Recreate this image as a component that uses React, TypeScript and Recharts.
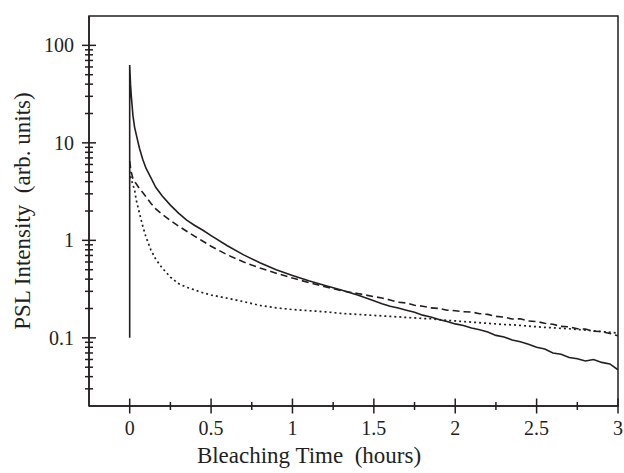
import { LineChart, Line, XAxis, YAxis, ReferenceArea } from 'recharts'

const INK = '#231f20'
const SERIF = '"Liberation Serif", "Times New Roman", serif'

// bleaching time (hours), shared by the three traces
const hours = [
  0, 0.005, 0.01, 0.02, 0.03, 0.04, 0.06, 0.08, 0.1,
  0.13, 0.16, 0.2, 0.25, 0.3, 0.35, 0.4, 0.45, 0.5,
  0.6, 0.7, 0.8, 0.9, 1.0, 1.1, 1.2, 1.3, 1.4, 1.5,
  1.55, 1.6, 1.65, 1.7, 1.75, 1.8, 1.85, 1.9, 1.95, 2.0,
  2.05, 2.1, 2.15, 2.2, 2.25, 2.3, 2.35, 2.4, 2.45, 2.5,
  2.55, 2.6, 2.65, 2.7, 2.75, 2.8, 2.85, 2.9, 2.95, 3.0,
]

// solid trace starts with a vertical jump at t = 0
const solidStart = 0.1
const solidPsl = [
  63, 40, 30, 19, 14.5, 12.2, 8.8, 6.8, 5.5,
  4.4, 3.5, 2.85, 2.3, 1.9, 1.61, 1.42, 1.27, 1.12,
  0.88, 0.71, 0.59, 0.5, 0.435, 0.385, 0.345, 0.31, 0.275, 0.24,
  0.224, 0.211, 0.202, 0.192, 0.183, 0.171, 0.164, 0.154, 0.147, 0.139,
  0.134, 0.126, 0.121, 0.115, 0.106, 0.102, 0.095, 0.091, 0.086, 0.08,
  0.077, 0.07, 0.068, 0.063, 0.061, 0.058, 0.06, 0.056, 0.054, 0.047,
]
const dashedPsl = [
  6.5, 5.6, 5.0, 4.3, 4.0, 3.8, 3.4, 3.1, 2.8,
  2.4, 2.1, 1.85, 1.6, 1.4, 1.24, 1.1, 0.98, 0.87,
  0.71, 0.6, 0.52, 0.46, 0.41, 0.37, 0.335, 0.305, 0.285, 0.265,
  0.256, 0.245, 0.232, 0.228, 0.216, 0.211, 0.203, 0.2, 0.192, 0.19,
  0.185, 0.184, 0.177, 0.174, 0.166, 0.163, 0.156, 0.157, 0.149, 0.147,
  0.141, 0.138, 0.131, 0.13, 0.124, 0.123, 0.117, 0.116, 0.111, 0.105,
]
const dottedPsl = [
  5.1, 4.6, 4.2, 3.7, 3.3, 2.6, 1.9, 1.4, 1.08,
  0.8, 0.64, 0.52, 0.42, 0.36, 0.33, 0.31, 0.29, 0.275,
  0.255, 0.235, 0.215, 0.203, 0.195, 0.19, 0.185, 0.178, 0.174, 0.17,
  0.168, 0.166, 0.164, 0.162, 0.16, 0.158, 0.157, 0.154, 0.151, 0.149,
  0.147, 0.145, 0.143, 0.141, 0.139, 0.137, 0.136, 0.134, 0.132, 0.13,
  0.128, 0.127, 0.125, 0.124, 0.122, 0.12, 0.118, 0.116, 0.114, 0.112,
]

const xMajor = [0, 0.5, 1, 1.5, 2, 2.5, 3]
const xMinor = [0.25, 0.75, 1.25, 1.75, 2.25, 2.75]
const yMajor = [0.1, 1, 10, 100]
const yMinor = [
  0.03, 0.04, 0.05, 0.06, 0.07, 0.08, 0.09,
  0.2, 0.3, 0.4, 0.5, 0.6, 0.7, 0.8, 0.9,
  2, 3, 4, 5, 6, 7, 8, 9,
  20, 30, 40, 50, 60, 70, 80, 90,
]

const solidData = [
  { t: 0, v: solidStart },
  ...hours.map((t, i) => ({ t, v: solidPsl[i] })),
]
const dashedData = hours.map((t, i) => ({ t, v: dashedPsl[i] }))
const dottedData = hours.map((t, i) => ({ t, v: dottedPsl[i] }))

function XTick({ x, y, payload }: any) {
  const major = xMajor.includes(payload.value)
  const len = major ? 7.5 : 4
  return (
    <g>
      <line x1={x} x2={x} y1={y - len} y2={y + len} stroke={INK} strokeWidth={1.5} />
      {major && (
        <text x={x} y={y + 29} textAnchor="middle" fontSize={20} fontFamily={SERIF} fill={INK}>
          {String(payload.value)}
        </text>
      )}
    </g>
  )
}

function YTick({ x, y, payload }: any) {
  const major = yMajor.includes(payload.value)
  const len = major ? 7 : 4
  return (
    <g>
      <line x1={x - len} x2={x + len} y1={y} y2={y} stroke={INK} strokeWidth={1.5} />
      {major && (
        <text x={x - 15} y={y + 7} textAnchor="end" fontSize={20} fontFamily={SERIF} fill={INK}>
          {String(payload.value)}
        </text>
      )}
    </g>
  )
}

export default function App() {
  return (
    <div style={{ position: 'absolute', left: 0, top: 0, width: 624, height: 473, background: '#fff' }}>
      <LineChart width={624} height={473} margin={{ top: 16, right: 6, bottom: 0, left: 0 }}>
        <XAxis
          dataKey="t"
          type="number"
          domain={[-0.25, 3]}
          allowDataOverflow
          ticks={[...xMajor, ...xMinor]}
          interval={0}
          tick={XTick}
          tickLine={false}
          tickSize={0}
          tickMargin={0}
          height={67}
          axisLine={{ stroke: INK, strokeWidth: 1.5 }}
          label={{
            content: () => (
              <text x={309} y={463} textAnchor="middle" fontSize={23} fontFamily={SERIF} fill={INK} style={{ whiteSpace: 'pre' }}>
                Bleaching Time  (hours)
              </text>
            ),
          }}
        />
        <YAxis
          dataKey="v"
          scale="log"
          domain={[0.02, 200]}
          allowDataOverflow
          ticks={[...yMajor, ...yMinor]}
          tick={YTick}
          tickLine={false}
          tickSize={0}
          tickMargin={0}
          width={89}
          interval={0}
          axisLine={{ stroke: INK, strokeWidth: 1.5 }}
          label={{
            content: () => (
              <text
                x={30}
                y={211}
                transform="rotate(-90 30 211)"
                textAnchor="middle"
                fontSize={23}
                fontFamily={SERIF}
                fill={INK}
                style={{ whiteSpace: 'pre' }}
              >
                PSL Intensity  (arb. units)
              </text>
            ),
          }}
        />
        <ReferenceArea x1={-0.25} x2={3} y1={0.02} y2={200} fill="none" stroke={INK} strokeWidth={1.5} />
        <Line data={dottedData} dataKey="v" type="linear" stroke={INK} strokeWidth={1.7} strokeDasharray="2 3" dot={false} isAnimationActive={false} />
        <Line data={dashedData} dataKey="v" type="linear" stroke={INK} strokeWidth={1.6} strokeDasharray="7 4" dot={false} isAnimationActive={false} />
        <Line data={solidData} dataKey="v" type="linear" stroke={INK} strokeWidth={1.6} dot={false} isAnimationActive={false} />
      </LineChart>
    </div>
  )
}
